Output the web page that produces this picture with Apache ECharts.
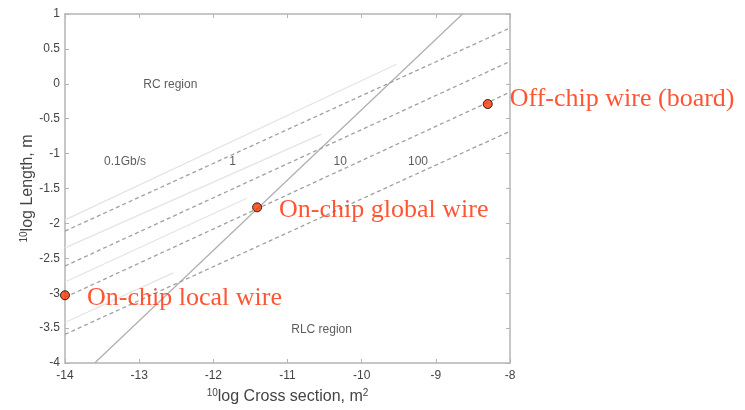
<!DOCTYPE html>
<html>
<head>
<meta charset="utf-8">
<script src="https://cdn.jsdelivr.net/npm/echarts@6/dist/echarts.min.js"></script>
<style>html,body{margin:0;padding:0;background:#fff}#c{width:745px;height:410px}</style>
</head>
<body>
<div id="c"></div>
<script>
// ---- data ----
const xMin = -14, xMax = -8, xStep = 1;
const yMin = -4, yMax = 1, yStep = 0.5;
// RC / RLC boundary (solid grey)
const boundaryLine = [[-13.6, -4], [-8.64, 1]];
// constant-bitrate lines (dashed): y at x=-14 and y at x=-8
const dashedStartY = [-2.11, -2.61, -3.06, -3.59];
const dashedEndY = [0.80, 0.32, -0.12, -0.68];
// faint companion lines: start at x=-14, end points
const faintStartY = [-1.95, -2.35, -2.84, -3.42];
const faintEnd = [[-9.53, 0.28], [-10.54, -0.72], [-11.55, -1.64], [-12.54, -2.71]];
// wire types
const wireNames = ['On-chip local wire', 'On-chip global wire', 'Off-chip wire (board)'];
const wireX = [-14, -11.41, -8.30];
const wireY = [-3.03, -1.77, -0.29];
// in-plot text labels
const regionText = ['RC region', '0.1Gb/s', '1', '10', '100', 'RLC region'];
const regionX = [-12.58, -13.19, -11.74, -10.29, -9.24, -10.54];
const regionY = [-0.01, -1.12, -1.12, -1.12, -1.12, -3.52];

// ---- chart ----
const chart = echarts.init(document.getElementById('c'), null, {renderer: 'canvas'});
const axisGrey = '#b4b4b4';
const tickFont = {color: '#444', fontSize: 12, fontFamily: 'Liberation Sans, Arial, sans-serif'};

const series = [];
series.push({
  type: 'line', data: boundaryLine, symbol: 'none', silent: true,
  lineStyle: {color: '#b0b0b0', width: 1.3}, z: 2
});
dashedStartY.forEach((s, i) => {
  series.push({
    type: 'line', data: [[xMin, s], [xMax, dashedEndY[i]]], symbol: 'none', silent: true,
    lineStyle: {color: '#a0a0a0', width: 1.3, type: [4, 3]}, z: 2
  });
});
faintStartY.forEach((s, i) => {
  series.push({
    type: 'line', data: [[xMin, s], faintEnd[i]], symbol: 'none', silent: true,
    lineStyle: {color: '#e4e4e4', width: 1.3}, z: 1
  });
});
const labelOffsets = [[0, 3], [0, 3], [0, -5]];
series.push({
  type: 'scatter', z: 5, clip: false,
  symbolSize: 9,
  itemStyle: {color: '#ff3300', borderColor: '#000', borderWidth: 1},
  data: wireNames.map((n, i) => ({
    value: [wireX[i], wireY[i]], name: n,
    label: {offset: labelOffsets[i]}
  })),
  label: {
    show: true, position: 'right', distance: 17,
    formatter: p => p.name,
    color: '#ff2a00', fontSize: 26,
    fontFamily: 'Liberation Serif, Times New Roman, serif'
  }
});
series.push({
  type: 'scatter', z: 4, symbolSize: 0, silent: true,
  data: regionText.map((t, i) => ({value: [regionX[i], regionY[i]], name: t})),
  label: {
    show: true, position: 'inside', formatter: p => p.name,
    color: '#333', fontSize: 12, fontFamily: 'Liberation Sans, Arial, sans-serif'
  }
});

function frameAxis(extra) {
  return Object.assign({
    axisLine: {show: true, onZero: false, lineStyle: {color: axisGrey, width: 1.5}},
    axisTick: {show: true, inside: true, length: 4, lineStyle: {color: axisGrey}},
    splitLine: {show: false}
  }, extra);
}

const option = {
  animation: false,
  backgroundColor: '#fff',
  grid: {left: 65, right: 235, top: 14, bottom: 44, containLabel: false},
  xAxis: [frameAxis({
    type: 'value', min: xMin, max: xMax, interval: xStep, position: 'bottom',
    axisLabel: Object.assign({margin: 7}, tickFont),
    name: '{sup|10}log Cross section, m{sup|2}',
    nameLocation: 'middle', nameGap: 25, nameMoveOverlap: false,
    nameTextStyle: {
      color: '#444', fontSize: 16, fontFamily: 'Liberation Sans, Arial, sans-serif',
      rich: {sup: {fontSize: 10, verticalAlign: 'top', color: '#444', padding: [0, 0, 8, 0]}}
    }
  }), frameAxis({
    type: 'value', min: xMin, max: xMax, interval: xStep, position: 'top',
    axisLabel: {show: false}
  })],
  yAxis: [frameAxis({
    type: 'value', min: yMin, max: yMax, interval: yStep, position: 'left',
    axisLabel: Object.assign({margin: 5}, tickFont),
    name: '{sup|10}log Length, m',
    nameLocation: 'middle', nameGap: 28, nameRotate: 90, nameMoveOverlap: false,
    nameTextStyle: {
      color: '#444', fontSize: 16, fontFamily: 'Liberation Sans, Arial, sans-serif',
      rich: {sup: {fontSize: 10, color: '#444', padding: [0, 0, 8, 0]}}
    }
  }), frameAxis({
    type: 'value', min: yMin, max: yMax, interval: yStep, position: 'right',
    axisLabel: {show: false}
  })],
  series: series
};
chart.setOption(option);
</script>
</body>
</html>
